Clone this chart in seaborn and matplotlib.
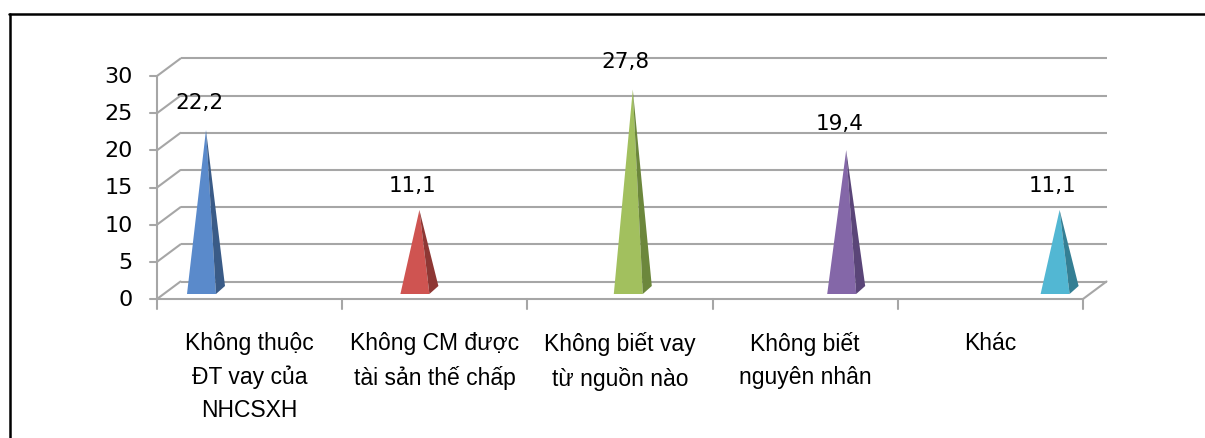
import matplotlib
matplotlib.use("Agg")
import matplotlib.pyplot as plt
from matplotlib import font_manager
from matplotlib.lines import Line2D
from matplotlib.patches import Polygon
import seaborn as sns

# Data
categories = [
    "Không thuộc\nĐT vay của\nNHCSXH",
    "Không CM được\ntài sản thế chấp",
    "Không biết vay\ntừ nguồn nào",
    "Không biết\nnguyên nhân",
    "Khác",
]
values = [22.2, 11.1, 27.8, 19.4, 11.1]
value_labels = ["22,2", "11,1", "27,8", "19,4", "11,1"]
y_ticks = [0, 5, 10, 15, 20, 25, 30]

front_colors = ["#5A8ACB", "#CF5451", "#A2C05E", "#8467A8", "#52B7D3"]
side_colors = ["#3A5B87", "#8E3734", "#6C873C", "#5A4578", "#347F94"]

sns.set_theme(style="white")
installed = {f.name for f in font_manager.fontManager.ttflist}
narrow = "Liberation Sans Narrow" if "Liberation Sans Narrow" in installed else "Liberation Sans"
plt.rcParams["font.family"] = ["DejaVu Sans"]

W, H = 1205, 439
fig = plt.figure(figsize=(W / 100, H / 100), dpi=100)
fig.patch.set_facecolor("white")

# front plane of the 3-D box: categories 0..5, values 0..30
x0_px, x1_px, y0_px, y1_px = 157, 1083, 300, 77
ax = fig.add_axes([x0_px / W, 1 - y0_px / H, (x1_px - x0_px) / W, (y0_px - y1_px) / H])
ax.set_xlim(0, 5)
ax.set_ylim(0, 30)
ax.axis("off")

px_x = 5 / (x1_px - x0_px)      # category units per pixel
px_y = 30 / (y0_px - y1_px)     # value units per pixel

# depth offset of the back wall
dx, dy = 23.5 * px_x, 17.5 * px_y
grid_c = "#A6A6A6"
lw = 1.5

for t in y_ticks:
    ax.plot([dx, 5 + dx], [t + dy, t + dy], color=grid_c, lw=lw, clip_on=False, solid_capstyle="butt")
    ax.plot([0, dx], [t, t + dy], color=grid_c, lw=lw, clip_on=False)
    ax.plot([-7 * px_x, 0], [t, t], color=grid_c, lw=lw, clip_on=False)
    ax.text(-24 * px_x, t, str(t), ha="right", va="center", fontsize=16, color="#000000")

# value axis and floor
ax.plot([0, 0], [0, 30], color=grid_c, lw=lw, clip_on=False)
ax.plot([0, 5], [0, 0], color=grid_c, lw=lw, clip_on=False)
ax.plot([5, 5 + dx], [0, dy], color=grid_c, lw=lw, clip_on=False)
for i in range(6):
    ax.plot([i, i], [0, -10 * px_y], color=grid_c, lw=lw, clip_on=False)

# pyramids
hw = 14.5 * px_x
ddx, ddy = 9 * px_x, 8 * px_y
base = 5 * px_y
step = 213.4 * px_x
first = 44.5 * px_x
for i, v in enumerate(values):
    c = first + i * step
    apex = (c + 4.5 * px_x, base + ddy / 2 + 0.97 * v)
    front = Polygon([(c - hw, base), (c + hw, base), apex], closed=True,
                    facecolor=front_colors[i], edgecolor="none", clip_on=False, zorder=3)
    side = Polygon([(c + hw, base), (c + hw + ddx, base + ddy), apex], closed=True,
                   facecolor=side_colors[i], edgecolor="none", clip_on=False, zorder=3)
    ax.add_patch(front)
    ax.add_patch(side)
    ax.text(c - 2.5 * px_x, v + 4.24, value_labels[i], ha="center", va="center",
            fontsize=15.5, color="#000000", zorder=4)

# category labels
for i, lab in enumerate(categories):
    ax.text(i + 0.5, -32 * px_y, lab, ha="center", va="top", multialignment="center",
            fontsize=16.5, family=[narrow, "DejaVu Sans"], linespacing=1.57, color="#000000")

# outer frame
fig.add_artist(Line2D([9.5 / W, 9.5 / W], [0, 1 - 14.5 / H], color="black", lw=1.8,
                      transform=fig.transFigure))
fig.add_artist(Line2D([9 / W, 1], [1 - 14.5 / H, 1 - 14.5 / H], color="black", lw=1.8,
                      transform=fig.transFigure))

fig.savefig("out.png", dpi=100)
